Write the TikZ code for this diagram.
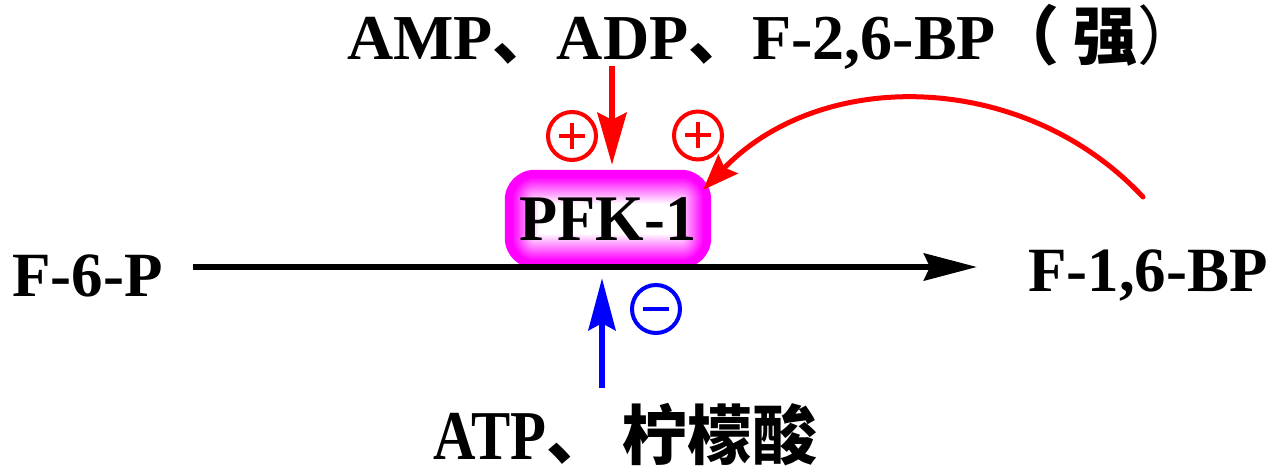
\documentclass[tikz,border=0pt]{standalone}
\usepackage{fontspec}
\setmainfont{Liberation Serif}
\newfontfamily\condserif{Liberation Serif}[FakeStretch=0.84]
\newfontfamily\cjk{Noto Sans CJK SC}
\usetikzlibrary{arrows.meta,calc,backgrounds}
\definecolor{pred}{RGB}{255,0,0}
\definecolor{pblue}{RGB}{0,0,255}
\definecolor{pmag}{RGB}{255,0,255}
\begin{document}
\begin{tikzpicture}[x=1pt,y=1pt,
  lab/.style={font=\bfseries\fontsize{63}{63}\selectfont, inner sep=0pt, anchor=base west},
  toplab/.style={font=\bfseries\fontsize{64}{64}\selectfont, inner sep=0pt, anchor=base west},
  botlab/.style={font=\bfseries\fontsize{65}{65}\selectfont, inner sep=0pt, anchor=base west},
  enzyme/.style={font=\bfseries\fontsize{65}{65}\selectfont, inner sep=0pt, minimum width=206pt, minimum height=98pt},
  sign/.style={circle, line width=4pt, minimum size=48pt, inner sep=0pt},
  mainarrow/.style={line width=6pt, -{Stealth[length=53pt,width=27pt,inset=6pt]}},
  redarrow/.style={pred, line width=6pt, -{Stealth[length=52pt,width=29pt,inset=7pt]}},
  bluearrow/.style={pblue, line width=6pt, -{Stealth[length=52pt,width=27pt,inset=7pt]}},
  feedback/.style={pred, line width=5pt, line cap=round, -{Stealth[length=36pt,width=27pt,inset=5pt]}},
  signbar/.style={line width=4pt}]
\useasboundingbox (0,0) rectangle (1278,469);

% labels
\node[lab] (f6p) at (12,172) {F-6-P};
\node[lab] (f16bp) at (1028,177) {F-1,6-BP};
\node[toplab] (act) at (347,409) {AMP{\cjk\bfseries 、}ADP{\cjk\bfseries 、}F-2,6-BP{\cjk （\hspace{14pt}\bfseries 强\mdseries ）}};
\node[botlab] (inh) at (433,10) {{\condserif\bfseries\fontsize{70}{70}\selectfont ATP}{\cjk\bfseries 、\hspace{11pt}柠檬酸}};

% enzyme
\node[enzyme] (pfk) at (608,250) {\scalebox{0.96}[1]{PFK-1}};
\begin{scope}[on background layer]
  \foreach \d in {0,1,...,36}{
    \pgfmathtruncatemacro\p{\d<7 ? 100 : max(0, 100*(1-(\d-7)/27))}
    \pgfmathsetmacro\r{max(30-\d,1)}
    \fill[pmag!\p!white, rounded corners=\r pt]
      ($(pfk.south west)+(\d,\d)$) rectangle ($(pfk.north east)-(\d,\d)$);
  }
\end{scope}

% signs
\node[sign, draw=pred] (plusA) at (572,333) {};
\node[sign, draw=pred] (plusB) at (698,333.5) {};
\node[sign, draw=pblue] (minus) at (656,160) {};
\draw[signbar, pred] ($(plusA.center)+(-13,0)$) -- ($(plusA.center)+(13,0)$);
\draw[signbar, pred] ($(plusA.center)+(0,-13)$) -- ($(plusA.center)+(0,13)$);
\draw[signbar, pred] ($(plusB.center)+(-13,0)$) -- ($(plusB.center)+(13,0)$);
\draw[signbar, pred] ($(plusB.center)+(0,-13)$) -- ($(plusB.center)+(0,13)$);
\draw[signbar, pblue] ($(minus.center)+(-13,0)$) -- ($(minus.center)+(13,0)$);

% main reaction
\draw[mainarrow, shorten <=30pt, shorten >=51pt] (f6p.east |- 0,202) -- (f16bp.west |- 0,202);

% activators
\coordinate (actout) at (612,403);
\draw[redarrow, shorten >=5pt] (actout) -- (actout |- pfk.north);

% inhibitors
\coordinate (inhout) at (602,81);
\draw[bluearrow, shorten >=10pt] (inhout) -- (inhout |- pfk.south);

% feedback
\coordinate (fbstart) at (1143,272);
\coordinate (fbtip) at (703,279);
\draw[feedback] (fbstart) to[out=133,in=46] (fbtip);
\end{tikzpicture}
\end{document}
